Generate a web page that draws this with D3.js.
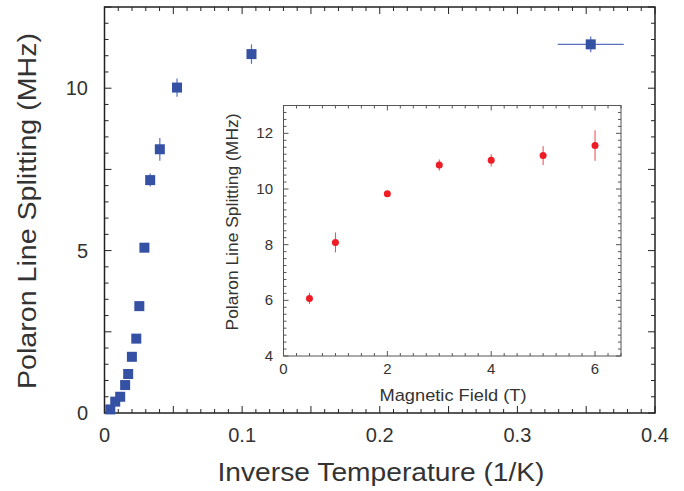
<!DOCTYPE html>
<html>
<head>
<meta charset="utf-8">
<script src="https://cdn.jsdelivr.net/npm/d3@7"></script>
<style>
  body { margin: 0; background: #fff; }
  text { font-family: "Liberation Sans", Arial, sans-serif; fill: #333; }
</style>
</head>
<body>
<div id="chart-area"></div>
<script>
// main panel: splitting vs inverse temperature
var invTemp = [0.0042, 0.0078, 0.0114, 0.0150, 0.0172, 0.0199, 0.0231, 0.0253, 0.0290, 0.0332, 0.0402, 0.0527, 0.1068, 0.3533];
var splitting = [0.11, 0.35, 0.50, 0.86, 1.20, 1.73, 2.29, 3.29, 5.09, 7.17, 8.12, 10.02, 11.05, 11.35];
var splittingErr = [0.05, 0.05, 0.05, 0.05, 0.05, 0.05, 0.05, 0.05, 0.05, 0.2, 0.35, 0.28, 0.3, 0.24];
var invTempErr = [0, 0, 0, 0, 0, 0, 0, 0, 0, 0, 0, 0, 0, 0.024];
var xTickLabels = [0, 0.1, 0.2, 0.3, 0.4];
var yTickLabels = [0, 5, 10];

// inset: splitting vs magnetic field
var field = [0.5, 1, 2, 3, 4, 5, 6];
var fieldSplitting = [6.07, 8.08, 9.83, 10.86, 11.03, 11.2, 11.56];
var fieldSplittingErr = [0.2, 0.36, 0.08, 0.2, 0.22, 0.34, 0.55];
var insetXTicks = [0, 2, 4, 6];
var insetYTicks = [4, 6, 8, 10, 12];

var W = 684, H = 491;
var svg = d3.select('#chart-area')
	.append('svg')
	.attr('width', W)
	.attr('height', H);

var main = { left: 104.5, right: 655, top: 7, bottom: 413 };
var x = d3.scaleLinear().domain([0, 0.4]).range([main.left, main.right]);
var y = d3.scaleLinear().domain([0, 12.5]).range([main.bottom, main.top]);

var ins = { left: 283.5, right: 621, top: 105.5, bottom: 356 };
var xi = d3.scaleLinear().domain([0, 6.5]).range([ins.left, ins.right]);
var yi = d3.scaleLinear().domain([4, 13]).range([ins.bottom, ins.top]);

function range(a, b, s) {
	var out = [];
	for (var i = 0; a + i * s <= b + 1e-9; i++) out.push(+(a + i * s).toFixed(6));
	return out;
}

// frame with inward ticks on all four sides
function frame(g, xs, ys, xMinor, xMajor, yMinor, yMajor, lenMaj, lenMin, color, width) {
	var x0 = xs.range()[0], x1 = xs.range()[1], y0 = ys.range()[0], y1 = ys.range()[1];
	var isMaj = (v, step) => Math.abs(v / step - Math.round(v / step)) < 1e-6;
	xMinor.forEach(v => {
		var L = isMaj(v, xMajor) ? lenMaj : lenMin;
		g.append('line').attr('x1', xs(v)).attr('x2', xs(v)).attr('y1', y0).attr('y2', y0 - L)
			.attr('stroke', color).attr('stroke-width', 1);
		g.append('line').attr('x1', xs(v)).attr('x2', xs(v)).attr('y1', y1).attr('y2', y1 + L)
			.attr('stroke', color).attr('stroke-width', 1);
	});
	yMinor.forEach(v => {
		var L = isMaj(v, yMajor) ? lenMaj : lenMin;
		g.append('line').attr('y1', ys(v)).attr('y2', ys(v)).attr('x1', x0).attr('x2', x0 + L)
			.attr('stroke', color).attr('stroke-width', 1);
		g.append('line').attr('y1', ys(v)).attr('y2', ys(v)).attr('x1', x1).attr('x2', x1 - L)
			.attr('stroke', color).attr('stroke-width', 1);
	});
	g.append('rect')
		.attr('x', x0).attr('y', y1)
		.attr('width', x1 - x0).attr('height', y0 - y1)
		.attr('fill', 'none').attr('stroke', color).attr('stroke-width', width);
}

// ---- main panel ----
var gm = svg.append('g');
frame(gm, x, y, range(0, 0.4, 0.01), 0.05, range(0, 12.5, 0.5), 2.5, 7, 4, '#222', 1.5);

gm.selectAll('.xlab').data(xTickLabels).enter().append('text')
	.attr('x', d => x(d)).attr('y', 442)
	.attr('text-anchor', 'middle').attr('font-size', '20px')
	.text(d => d);
gm.selectAll('.ylab').data(yTickLabels).enter().append('text')
	.attr('x', 88).attr('y', d => y(d) + 7)
	.attr('text-anchor', 'end').attr('font-size', '20px')
	.text(d => d);

gm.append('text')
	.attr('x', 381).attr('y', 481)
	.attr('text-anchor', 'middle').attr('font-size', '26px')
	.attr('textLength', 327).attr('lengthAdjust', 'spacingAndGlyphs')
	.text('Inverse Temperature (1/K)');
gm.append('text')
	.attr('transform', 'translate(36, 211) rotate(-90)')
	.attr('text-anchor', 'middle').attr('font-size', '26px')
	.attr('textLength', 356).attr('lengthAdjust', 'spacingAndGlyphs')
	.text('Polaron Line Splitting (MHz)');

var mainPts = invTemp.map((d, i) => ({ x: d, y: splitting[i], ey: splittingErr[i], ex: invTempErr[i] }));
var blue = '#3451a3', blueErr = '#5a6fc0';
gm.selectAll('.ey').data(mainPts).enter().append('line')
	.attr('x1', d => x(d.x)).attr('x2', d => x(d.x))
	.attr('y1', d => y(d.y - d.ey)).attr('y2', d => y(d.y + d.ey))
	.attr('stroke', blueErr).attr('stroke-width', 1.2);
gm.selectAll('.ex').data(mainPts.filter(d => d.ex > 0)).enter().append('line')
	.attr('x1', d => x(d.x - d.ex)).attr('x2', d => x(d.x + d.ex))
	.attr('y1', d => y(d.y)).attr('y2', d => y(d.y))
	.attr('stroke', blueErr).attr('stroke-width', 1.2);
gm.selectAll('.sq').data(mainPts).enter().append('rect')
	.attr('x', d => x(d.x) - 5).attr('y', d => y(d.y) - 5)
	.attr('width', 10).attr('height', 10)
	.attr('fill', blue);

// ---- inset ----
var gi = svg.append('g');
gi.append('rect')
	.attr('x', ins.left).attr('y', ins.top)
	.attr('width', ins.right - ins.left).attr('height', ins.bottom - ins.top)
	.attr('fill', '#fff');
frame(gi, xi, yi, range(0, 6.5, 0.25), 2, range(4, 13, 0.25), 2, 5, 3, '#555', 1);

gi.selectAll('.xlab').data(insetXTicks).enter().append('text')
	.attr('x', d => xi(d)).attr('y', 374)
	.attr('text-anchor', 'middle').attr('font-size', '15px')
	.text(d => d);
gi.selectAll('.ylab').data(insetYTicks).enter().append('text')
	.attr('x', 273).attr('y', d => yi(d) + 5)
	.attr('text-anchor', 'end').attr('font-size', '15px')
	.text(d => d);
gi.append('text')
	.attr('x', 453).attr('y', 401)
	.attr('text-anchor', 'middle').attr('font-size', '17px')
	.attr('textLength', 147).attr('lengthAdjust', 'spacingAndGlyphs')
	.text('Magnetic Field (T)');
gi.append('text')
	.attr('transform', 'translate(238, 222) rotate(-90)')
	.attr('text-anchor', 'middle').attr('font-size', '16px')
	.attr('textLength', 217).attr('lengthAdjust', 'spacingAndGlyphs')
	.text('Polaron Line Splitting (MHz)');

var insPts = field.map((d, i) => ({ x: d, y: fieldSplitting[i], ey: fieldSplittingErr[i] }));
gi.selectAll('.ey').data(insPts).enter().append('line')
	.attr('x1', d => xi(d.x)).attr('x2', d => xi(d.x))
	.attr('y1', d => yi(d.y - d.ey)).attr('y2', d => yi(d.y + d.ey))
	.attr('stroke', '#e8474d').attr('stroke-width', 1);
gi.selectAll('circle').data(insPts).enter().append('circle')
	.attr('cx', d => xi(d.x)).attr('cy', d => yi(d.y))
	.attr('r', 3.5)
	.attr('fill', '#ee1c25');
</script>
</body>
</html>
